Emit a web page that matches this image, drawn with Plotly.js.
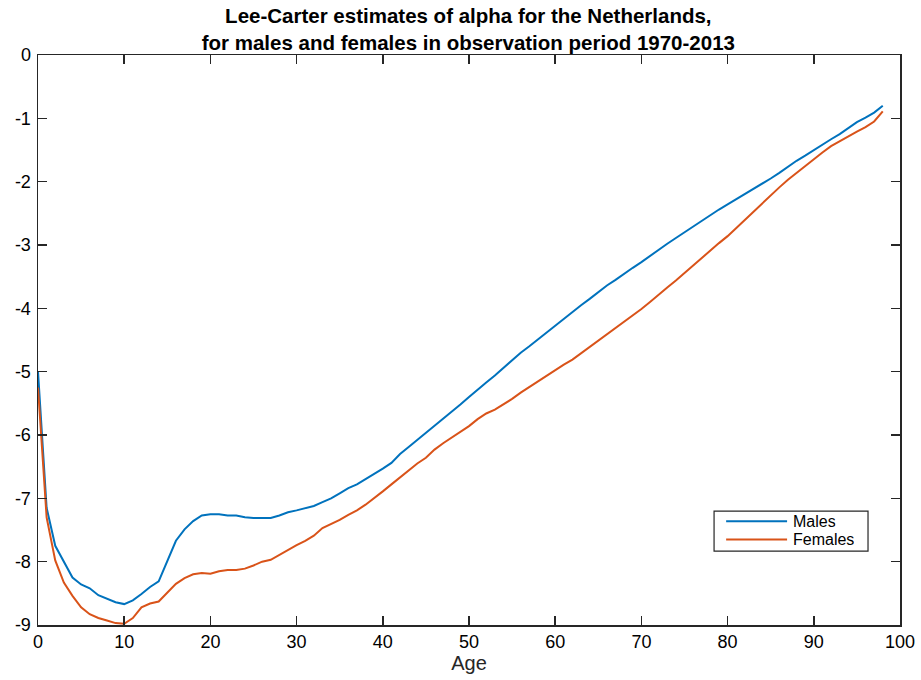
<!DOCTYPE html>
<html>
<head>
<meta charset="utf-8">
<script src="https://cdn.plot.ly/plotly-3.0.1.min.js"></script>
<style>
  html, body { margin: 0; padding: 0; background: #fff; }
  #chart { width: 921px; height: 680px; }
</style>
</head>
<body>
<div id="chart"></div>
<script>
// Age groups 0..98
const ages = Array.from({length: 99}, (_, i) => i);

// Lee-Carter alpha (log mortality level) by age, Netherlands 1970-2013
const malesAlpha = [
  -5.00, -7.15, -7.75, -8.01, -8.25, -8.36, -8.42, -8.53, -8.59, -8.64,
  -8.67, -8.61, -8.51, -8.40, -8.31, -8.00, -7.67, -7.49, -7.36, -7.27,
  -7.25, -7.25, -7.27, -7.27, -7.30, -7.31, -7.31, -7.31, -7.27, -7.22,
  -7.19, -7.16, -7.12, -7.06, -7.00, -6.92, -6.84, -6.78, -6.70, -6.61,
  -6.53, -6.44, -6.30, -6.19, -6.08, -5.96, -5.85, -5.74, -5.63, -5.52,
  -5.40, -5.28, -5.17, -5.06, -4.94, -4.82, -4.70, -4.60, -4.49, -4.39,
  -4.27, -4.17, -4.06, -3.95, -3.85, -3.74, -3.64, -3.55, -3.45, -3.36,
  -3.27, -3.17, -3.07, -2.98, -2.89, -2.80, -2.70, -2.61, -2.52, -2.44,
  -2.36, -2.28, -2.20, -2.11, -2.03, -1.95, -1.86, -1.76, -1.67, -1.59,
  -1.50, -1.41, -1.33, -1.25, -1.16, -1.06, -0.99, -0.91, -0.80
];

const femalesAlpha = [
  -5.25, -7.30, -7.98, -8.33, -8.54, -8.72, -8.83, -8.89, -8.93, -8.97,
  -8.98, -8.89, -8.72, -8.66, -8.63, -8.49, -8.35, -8.26, -8.20, -8.18,
  -8.19, -8.15, -8.13, -8.13, -8.11, -8.06, -8.00, -7.97, -7.89, -7.81,
  -7.74, -7.67, -7.59, -7.47, -7.41, -7.34, -7.26, -7.19, -7.10, -7.00,
  -6.89, -6.78, -6.67, -6.55, -6.45, -6.36, -6.23, -6.13, -6.04, -5.95,
  -5.86, -5.75, -5.66, -5.60, -5.52, -5.43, -5.33, -5.24, -5.16, -5.06,
  -4.98, -4.89, -4.81, -4.71, -4.62, -4.52, -4.42, -4.32, -4.22, -4.12,
  -4.01, -3.90, -3.78, -3.67, -3.56, -3.44, -3.32, -3.20, -3.08, -2.97,
  -2.86, -2.73, -2.60, -2.47, -2.34, -2.21, -2.09, -1.97, -1.86, -1.75,
  -1.65, -1.54, -1.44, -1.36, -1.28, -1.21, -1.14, -1.05, -0.89
];

const seriesNames = ['Males', 'Females'];
const seriesColors = ['#0072BD', '#D95319'];
const xTicks = [0, 10, 20, 30, 40, 50, 60, 70, 80, 90, 100];
const yTicks = [0, -1, -2, -3, -4, -5, -6, -7, -8, -9];

const FONT = '"Liberation Sans", Arial, Helvetica, sans-serif';
const AXIS_COLOR = '#262626';

const traces = [
  {
    x: ages, y: malesAlpha, name: seriesNames[0],
    type: 'scatter', mode: 'lines',
    line: {color: seriesColors[0], width: 2}
  },
  {
    x: ages, y: femalesAlpha, name: seriesNames[1],
    type: 'scatter', mode: 'lines',
    line: {color: seriesColors[1], width: 2}
  }
];

const axisCommon = {
  showgrid: false,
  zeroline: false,
  showline: true,
  linecolor: AXIS_COLOR,
  linewidth: 1.5,
  mirror: 'ticks',
  ticks: 'inside',
  ticklen: 9,
  tickwidth: 1.5,
  tickcolor: AXIS_COLOR,
  tickfont: {family: FONT, size: 18, color: '#000'}
};

// Boxed legend in the lower right of the plot area (paper coordinates)
const legendBox = {x0: 0.7843, x1: 0.9629, y0: 0.1296, y1: 0.1997};
const legendRowsY = [0.1822, 0.1498];
const legendLineX = [0.7983, 0.8690];
const legendTextX = 0.8745;

const shapes = [
  {
    type: 'rect', xref: 'paper', yref: 'paper',
    x0: legendBox.x0, x1: legendBox.x1, y0: legendBox.y0, y1: legendBox.y1,
    line: {color: AXIS_COLOR, width: 1.2}, fillcolor: '#fff', layer: 'above'
  }
];
const annotations = [];
seriesNames.forEach((name, i) => {
  shapes.push({
    type: 'line', xref: 'paper', yref: 'paper',
    x0: legendLineX[0], x1: legendLineX[1], y0: legendRowsY[i], y1: legendRowsY[i],
    line: {color: seriesColors[i], width: 2}, layer: 'above'
  });
  annotations.push({
    xref: 'paper', yref: 'paper',
    x: legendTextX, y: legendRowsY[i],
    xanchor: 'left', yanchor: 'middle',
    height: 15, valign: 'middle', borderpad: 0,
    text: name, showarrow: false,
    font: {family: FONT, size: 16, color: '#000'}
  });
});

const layout = {
  width: 921,
  height: 680,
  margin: {l: 37.5, r: 21, t: 54.7, b: 54.5},
  paper_bgcolor: '#fff',
  plot_bgcolor: '#fff',
  title: {
    text: '<b>Lee-Carter estimates of alpha for the Netherlands,<br>for males and females in observation period 1970-2013</b>',
    font: {family: FONT, size: 20.5, color: '#000'},
    x: 0.5085, xanchor: 'center',
    y: 0.966, yanchor: 'middle'
  },
  xaxis: Object.assign({}, axisCommon, {
    range: [0, 100],
    tickvals: xTicks,
    ticktext: xTicks.map(String),
    title: {text: 'Age', font: {family: FONT, size: 20, color: '#262626'}, standoff: 2}
  }),
  yaxis: Object.assign({}, axisCommon, {
    range: [-9, 0],
    tickvals: yTicks,
    ticktext: yTicks.map(String),
    ticklabelstandoff: 2
  }),
  showlegend: false,
  shapes: shapes,
  annotations: annotations
};

Plotly.newPlot('chart', traces, layout, {displayModeBar: false, staticPlot: true});
</script>
</body>
</html>
